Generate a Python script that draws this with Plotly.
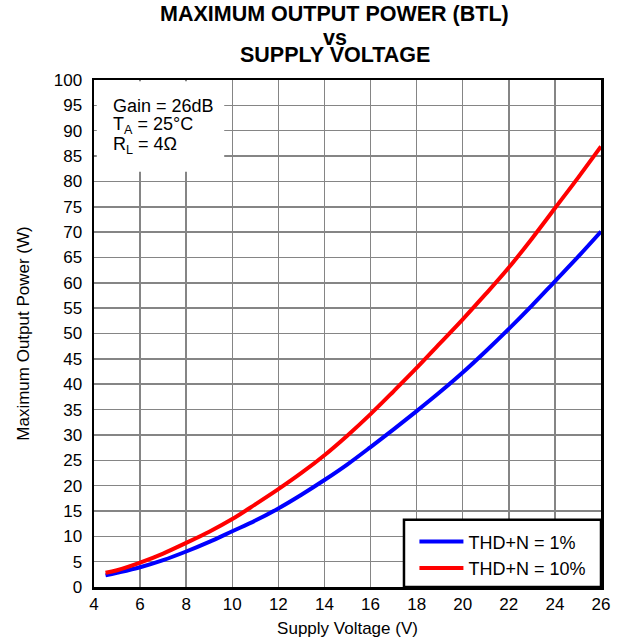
import plotly.graph_objects as go

voltage = [4.5, 5, 6, 7, 8, 9, 10, 11, 12, 13, 14, 15, 16, 17, 18, 19, 20, 21, 22, 23, 24, 25, 26]
power_thd1 = [2.3, 2.8, 3.9, 5.3, 7.0, 8.9, 11.0, 13.1, 15.5, 18.2, 21.1, 24.2, 27.6, 31.1, 34.7,
              38.4, 42.3, 46.5, 50.9, 55.5, 60.3, 65.1, 70.1]
power_thd10 = [2.8, 3.3, 4.8, 6.6, 8.7, 10.9, 13.4, 16.3, 19.3, 22.5, 26.0, 29.9, 34.1, 38.6, 43.2,
               48.0, 52.8, 57.8, 63.0, 68.7, 74.7, 80.7, 86.9]
x_ticks = list(range(4, 27, 2))
y_ticks = list(range(0, 101, 5))
title_lines = ["MAXIMUM OUTPUT POWER (BTL)", "vs", "SUPPLY VOLTAGE"]
info_lines = ["Gain = 26dB", "T<sub>A</sub> = 25°C", "R<sub>L</sub> = 4Ω"]

FONT = "Liberation Sans, Arial, sans-serif"

fig = go.Figure()
fig.add_trace(go.Scatter(x=voltage, y=power_thd1, mode="lines", name="THD+N = 1%",
                         line=dict(color="#0000ff", width=4, shape="spline")))
fig.add_trace(go.Scatter(x=voltage, y=power_thd10, mode="lines", name="THD+N = 10%",
                         line=dict(color="#ff0000", width=4, shape="spline")))

# white box behind the conditions text
fig.add_shape(type="rect", xref="x", yref="y", x0=4.12, x1=9.65, y0=81.9, y1=99.75,
              fillcolor="white", line=dict(width=0), layer="above")
for txt, yv in zip(info_lines, [94.9, 91.1, 87.0]):
    fig.add_annotation(xref="x", yref="y", x=4.72, y=yv, xanchor="left", yanchor="middle",
                       text=txt, showarrow=False, align="left",
                       font=dict(family=FONT, size=18, color="black"))

# legend frame
fig.add_shape(type="rect", xref="paper", yref="paper", x0=0.6114, x1=1.0, y0=0.0, y1=0.1327,
              fillcolor="white", line=dict(color="black", width=2.5), layer="above")

for txt, yp in zip(title_lines, [1.1296, 1.0825, 1.0487]):
    fig.add_annotation(xref="paper", yref="paper", x=0.4748, y=yp, xanchor="center",
                       yanchor="middle", text="<b>%s</b>" % txt, showarrow=False,
                       font=dict(family=FONT, size=21.5, color="black"))

fig.update_layout(
    width=628, height=643,
    margin=dict(l=94, r=27, t=80, b=56, autoexpand=False),
    paper_bgcolor="white", plot_bgcolor="white",
    font=dict(family=FONT, size=17, color="black"),
    showlegend=True,
    legend=dict(x=0.632, xanchor="left", y=0.1255, yanchor="top",
                bgcolor="rgba(0,0,0,0)", borderwidth=0,
                font=dict(family=FONT, size=18, color="black"),
                itemwidth=44, tracegroupgap=0),
)
fig.update_xaxes(range=[4, 26], tickvals=x_ticks, showgrid=True, gridcolor="#858585", gridwidth=1.5,
                 showline=True, linecolor="black", linewidth=2.5, mirror=True, ticks="",
                 title=dict(text="Supply Voltage (V)", font=dict(family=FONT, size=17), standoff=9),
                 tickfont=dict(size=17), zeroline=False, automargin=False)
fig.update_yaxes(range=[0, 100], tickvals=y_ticks, showgrid=True, gridcolor="#858585", gridwidth=1.5,
                 showline=True, linecolor="black", linewidth=2.5, mirror=True, ticks="",
                 title=dict(text="Maximum Output Power (W)", font=dict(family=FONT, size=17), standoff=20),
                 tickfont=dict(size=17), ticklabelstandoff=6, zeroline=False, automargin=False)

fig.write_html("out.html", post_script="document.body.style.margin='0';",
               config={"displayModeBar": False, "staticPlot": True})
